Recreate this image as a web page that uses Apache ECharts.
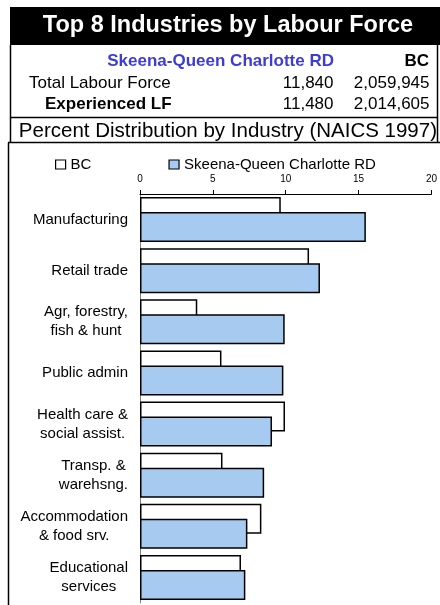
<!DOCTYPE html>
<html>
<head>
<meta charset="utf-8">
<script src="https://cdn.jsdelivr.net/npm/echarts@6/dist/echarts.min.js"></script>
<style>
html,body{margin:0;padding:0;background:#fff;}
#chart{width:440px;height:605px;}
</style>
</head>
<body>
<div id="chart"></div>
<script>
// ---- data ----
const categories = [
  'Manufacturing',
  'Retail trade',
  'Agr, forestry,\nfish & hunt',
  'Public admin',
  'Health care &\nsocial assist.',
  'Transp. &\nwarehsng.',
  'Accommodation\n& food srv.',
  'Educational\nservices'
];
const bcValues = [9.66, 11.6, 3.93, 5.59, 9.95, 5.66, 8.33, 6.93];
const regionValues = [15.5, 12.35, 9.93, 9.84, 9.06, 8.52, 7.37, 7.23];
const seriesNames = ['BC', 'Skeena-Queen Charlotte RD'];
const xTickMin = 0, xTickMax = 20, xTickStep = 5;

const titleText = 'Top 8 Industries by Labour Force';
const subTitleText = 'Percent Distribution by Industry (NAICS 1997)';
const rowLabels = ['Total Labour Force', 'Experienced LF'];
const regionTotals = ['11,840', '11,480'];
const bcTotals = ['2,059,945', '2,014,605'];

// ---- chart ----
const FONT = '"Liberation Sans", Arial, Helvetica, sans-serif';
const chart = echarts.init(document.getElementById('chart'), null, {renderer: 'canvas'});

function txt(text, x, y, opts) {
  opts = opts || {};
  return {
    type: 'text', silent: true, z: 100,
    style: {
      text: text, x: x, y: y,
      fill: opts.fill || '#000',
      font: (opts.weight || 'normal') + ' ' + (opts.size || 17) + 'px ' + FONT,
      align: opts.align || 'left', textAlign: opts.align || 'left',
      verticalAlign: 'middle', textVerticalAlign: 'middle'
    }
  };
}
function line(x1, y1, x2, y2) {
  return {type: 'line', silent: true, z: 100,
    shape: {x1: x1, y1: y1, x2: x2, y2: y2},
    style: {stroke: '#000', lineWidth: 1.5}};
}

const graphics = [
  {type: 'rect', silent: true, z: 90, shape: {x: 10, y: 7, width: 430, height: 38}, style: {fill: '#000'}},
  txt(titleText, 228, 26, {fill: '#fff', weight: 'bold', size: 23.5, align: 'center'}),
  txt(seriesNames[1], 334, 61, {fill: '#3D3DD6', weight: 'bold', size: 17, align: 'right'}),
  txt(seriesNames[0], 429, 61, {weight: 'bold', size: 17, align: 'right'}),
  txt(rowLabels[0], 29, 83.5, {size: 17}),
  txt(regionTotals[0], 333.5, 83.5, {size: 17, align: 'right'}),
  txt(bcTotals[0], 429.5, 83.5, {size: 17, align: 'right'}),
  txt(rowLabels[1], 45, 104, {weight: 'bold', size: 17}),
  txt(regionTotals[1], 333.5, 104, {size: 17, align: 'right'}),
  txt(bcTotals[1], 429.5, 104, {size: 17, align: 'right'}),
  txt(subTitleText, 437, 131.5, {size: 20.5, align: 'right'}),
  line(10.5, 45, 10.5, 143),
  line(437.5, 45, 437.5, 143),
  line(10, 117.5, 438, 117.5),
  line(8, 142.5, 440, 142.5),
  line(8.5, 142.5, 8.5, 605)
];

const option = {
  animation: false,
  backgroundColor: '#fff',
  textStyle: {fontFamily: FONT},
  graphic: graphics,
  legend: {
    data: seriesNames,
    left: 50, top: 152,
    itemWidth: 10, itemHeight: 9, itemGap: 77,
    icon: 'rect',
    itemStyle: {borderColor: '#000', borderWidth: 1.2},
    textStyle: {fontSize: 15, color: '#000', fontFamily: FONT}
  },
  grid: {left: 140, right: 8, top: 194, bottom: 2, containLabel: false},
  xAxis: {
    type: 'value', position: 'top',
    min: xTickMin, max: xTickMax, interval: xTickStep,
    axisLine: {show: true, lineStyle: {color: '#000', width: 1}},
    axisTick: {show: true, length: 4, lineStyle: {color: '#000'}},
    axisLabel: {fontSize: 10, color: '#000', margin: 10, fontFamily: FONT},
    splitLine: {show: false}
  },
  yAxis: {
    type: 'category', inverse: true, data: categories,
    axisLine: {show: true, lineStyle: {color: '#808080', width: 1}},
    axisTick: {show: false},
    axisLabel: {
      margin: 12,
      formatter: function (v) { return v.split('\n').map(function (s) { return '{c|' + s + '}'; }).join('\n'); },
      rich: {c: {align: 'center', fontSize: 15, lineHeight: 19, color: '#000', fontFamily: FONT}}
    }
  },
  series: [
    {
      name: seriesNames[0], type: 'bar', data: bcValues,
      barWidth: 30, barGap: '-50%',
      itemStyle: {color: '#fff', borderColor: '#000', borderWidth: 1.5}
    },
    {
      name: seriesNames[1], type: 'bar', data: regionValues,
      barWidth: 30, barGap: '-50%',
      itemStyle: {color: '#A6CAF0', borderColor: '#000', borderWidth: 1.5}
    }
  ]
};
chart.setOption(option);
</script>
</body>
</html>
